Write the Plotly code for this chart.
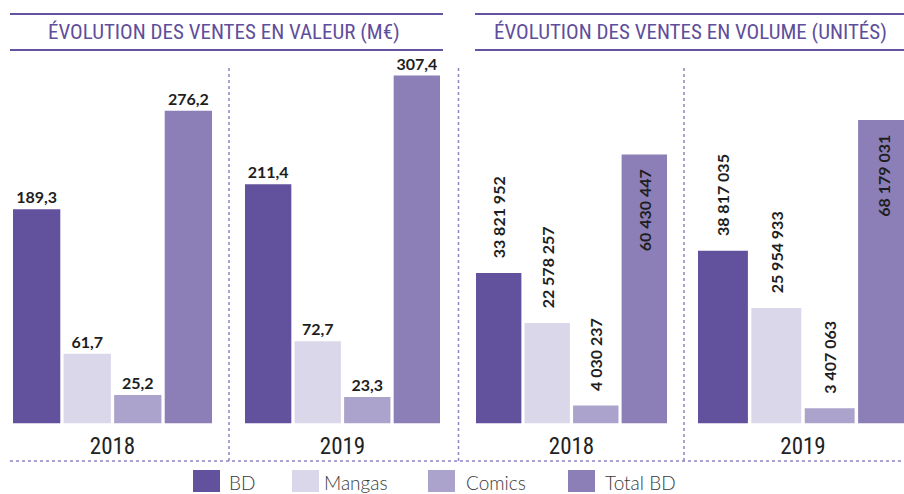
import plotly.graph_objects as go

# ---------------- data ----------------
years = ["2018", "2019"]
series = ["BD", "Mangas", "Comics", "Total BD"]
colors = ["#62519c", "#dbd7ea", "#aba3cc", "#8c7fb8"]

valeur_bd = [189.3, 211.4]
valeur_mangas = [61.7, 72.7]
valeur_comics = [25.2, 23.3]
valeur_total = [276.2, 307.4]

volume_bd = [33821952, 38817035]
volume_mangas = [22578257, 25954933]
volume_comics = [4030237, 3407063]
volume_total = [60430447, 68179031]

title_valeur = "ÉVOLUTION DES VENTES EN VALEUR (M€)"
title_volume = "ÉVOLUTION DES VENTES EN VOLUME (UNITÉS)"

valeur = [valeur_bd, valeur_mangas, valeur_comics, valeur_total]
volume = [volume_bd, volume_mangas, volume_comics, volume_total]

# ---------------- layout constants ----------------
W, H = 904, 494
def fx(px):
    return px / W
def fy(py):
    return 1 - py / H

BARGAP = 0.1
BGG = 0.065
NB = "\u00a0"
COND = "Liberation Sans Narrow, Roboto Condensed, Arial Narrow, sans-serif"
PURPLE = "#5f4e9c"
DOT = "#8f84c4"

# bar-group pixel extents of the four sub panels
groups_px = [(13, 212), (245, 440), (476, 667), (698, 908)]
base_px, top_px = 423.5, 60
px_per_val = 1.132
px_per_vol = 4.45e-6

fig = go.Figure()
layout_axes = {}
panels = [("valeur", 0), ("valeur", 1), ("volume", 0), ("volume", 1)]
for k, ((kind, yi), (x0, x1)) in enumerate(zip(panels, groups_px)):
    n = "" if k == 0 else str(k + 1)
    slot = (x1 - x0) / (4 - BGG)
    dw = 4 * slot / (1 - BARGAP)
    c = (x0 + x1) / 2
    d0, d1 = c - dw / 2, c + dw / 2
    r1 = 0.5
    if d1 > W:
        r1 = 0.5 - (d1 - W) / dw
        d1 = W
    if d0 < 0:
        d0 = 0
    data = valeur if kind == "valeur" else volume
    for s, name in enumerate(series):
        lbl_font = dict(family="Lato, sans-serif", size=16, color="#1e1e1e", weight="bold")
        tr = dict(
            x=[years[yi]], y=[data[s][yi]], name=name,
            marker=dict(color=colors[s], line=dict(width=0)),
            xaxis="x" + n, yaxis="y" + n, showlegend=False,
            cliponaxis=False, constraintext="none",
            textfont=lbl_font, insidetextfont=lbl_font, outsidetextfont=lbl_font,
            hoverinfo="skip",
        )
        if kind == "valeur":
            tr.update(texttemplate="%{y:.1f}", textposition="outside", textangle=0)
        else:
            if name == "Total BD":
                tr.update(texttemplate="%{y:,.0f}" + NB * 3, textposition="inside",
                          insidetextanchor="end", textangle=-90)
            else:
                tr.update(texttemplate=NB * 3 + "%{y:,.0f}", textposition="outside",
                          textangle=-90)
        fig.add_trace(go.Bar(**tr))
    yr = (base_px - top_px) / (px_per_val if kind == "valeur" else px_per_vol)
    layout_axes["xaxis" + n] = dict(
        domain=[fx(d0), fx(d1)], range=[-0.5, r1], type="category",
        anchor="y" + n, showgrid=False, zeroline=False, showline=False, ticks="",
        tickfont=dict(family=COND, size=23, color="#222222"),
        ticklabelstandoff=6, fixedrange=True,
    )
    layout_axes["yaxis" + n] = dict(
        domain=[fy(base_px), fy(top_px)], range=[0, yr], anchor="x" + n,
        visible=False, fixedrange=True,
    )

shapes = []
annotations = []
# title rules
for (lx0, lx1) in [(10, 443), (475, 904)]:
    for ly in (14, 50):
        shapes.append(dict(type="line", xref="paper", yref="paper",
                           x0=fx(lx0), x1=fx(lx1), y0=fy(ly), y1=fy(ly),
                           line=dict(color="#6453a0", width=2)))
# titles
for txt, cx in [(title_valeur, 224), (title_volume, 690)]:
    annotations.append(dict(text=txt, xref="paper", yref="paper", x=fx(cx), y=fy(32),
                            xanchor="center", yanchor="middle", showarrow=False,
                            font=dict(family=COND, size=21, color=PURPLE)))
# dotted separators
for vx in (229, 458.5, 684):
    shapes.append(dict(type="line", xref="paper", yref="paper",
                       x0=fx(vx), x1=fx(vx), y0=fy(68), y1=fy(461),
                       line=dict(color=DOT, width=1.5, dash="dot")))
shapes.append(dict(type="line", xref="paper", yref="paper",
                   x0=fx(10), x1=fx(904), y0=fy(461), y1=fy(461),
                   line=dict(color=DOT, width=1.5, dash="dot")))

# custom legend
leg_sq_x = [193, 292, 428, 568]
leg_tx_x = [227, 322, 464, 603]
for i, name in enumerate(series):
    shapes.append(dict(type="rect", xref="paper", yref="paper",
                       x0=fx(leg_sq_x[i]), x1=fx(leg_sq_x[i] + 27),
                       y0=fy(492), y1=fy(470), fillcolor=colors[i],
                       line=dict(width=0)))
    annotations.append(dict(text=name, xref="paper", yref="paper",
                            x=fx(leg_tx_x[i]), y=fy(482), xanchor="left", yanchor="middle",
                            showarrow=False,
                            font=dict(family="Lato, sans-serif", size=19, color="#3a3a3a",
                                      weight=300)))

fig.update_layout(
    width=W, height=H, margin=dict(l=0, r=0, t=0, b=0),
    paper_bgcolor="white", plot_bgcolor="rgba(0,0,0,0)",
    barmode="group", bargap=BARGAP, bargroupgap=BGG,
    separators=", ", shapes=shapes, annotations=annotations,
    showlegend=False, **layout_axes,
)

fig.write_html("out.html", config={"displayModeBar": False, "staticPlot": True},
               post_script="document.body.style.margin='0';document.body.style.overflow='hidden';")
